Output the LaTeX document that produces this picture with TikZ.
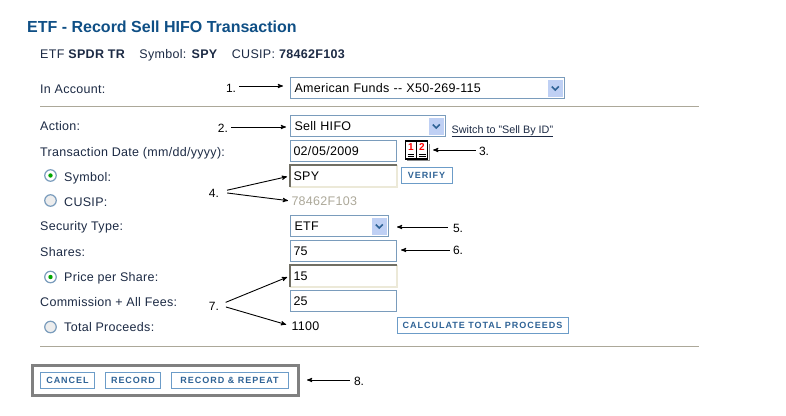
\documentclass[tikz,border=0pt]{standalone}
\usepackage{fontspec}
\setmainfont{Liberation Sans}
\newfontfamily\btnfont[LetterSpace=11]{Liberation Sans}
\newfontfamily\lblfont[LetterSpace=2.4]{Liberation Sans}
\usetikzlibrary{positioning, arrows}
\definecolor{boxBlue}{HTML}{7A9CBC}
\definecolor{btnBlue}{HTML}{6C9CC8}
\definecolor{btnText}{HTML}{2F6396}
\definecolor{titleBlue}{HTML}{0F4F85}
\definecolor{labelDark}{HTML}{1C2A44}
\definecolor{ruleGrey}{HTML}{ACA899}
\definecolor{dropBlue}{HTML}{BFD0F4}
\definecolor{focusDark}{HTML}{716F64}
\definecolor{focusLight}{HTML}{ECE9D8}
\tikzstyle{normalText} = [inner sep=0pt, anchor=base west, text=labelDark, font=\lblfont\fontsize{12.5}{14}\selectfont]
\tikzstyle{stepText} = [inner sep=0pt, text=black, font=\fontsize{12}{14}\selectfont]
\tikzstyle{inputBox} = [shape=rectangle, draw=boxBlue, line width=1pt, fill=white, anchor=west,
	inner xsep=3pt, inner ysep=0pt, minimum height=21pt, text height=9pt, text depth=0pt, text=black, align=left,
	font=\lblfont\fontsize{12.5}{14}\selectfont]
\tikzstyle{focusBox} = [inputBox, draw=none, fill=white]
\tikzstyle{selectBox} = [inputBox, inner xsep=4pt]
\tikzstyle{plainValue} = [inputBox, draw=none, fill=none, inner xsep=0pt]
\tikzstyle{webButton} = [shape=rectangle, draw=btnBlue, line width=1pt, fill=white, inner sep=0pt,
	minimum height=16.5pt, text=btnText, font=\btnfont\bfseries\fontsize{9}{10}\selectfont]
\tikzstyle{dropButton} = [shape=rectangle, fill=dropBlue, minimum width=15pt, minimum height=17pt]
\tikzstyle{dropMark} = [line width=1.6pt, draw=btnText]
\tikzstyle{normalArrow} = [line width=.9pt, ->, >=stealth', draw=black]
\tikzstyle{hrLine} = [line width=1pt, draw=ruleGrey]
\tikzstyle{radioOff} = [shape=circle, draw=boxBlue, line width=1.2pt, fill=black!7, inner sep=0pt, minimum size=11.5pt]
\tikzstyle{radioOn} = [radioOff, fill=white]
\tikzstyle{calDigit} = [inner sep=0pt, text=red, font=\bfseries\fontsize{10}{10}\selectfont]
\tikzstyle{calLine} = [line width=.8pt, draw=black]
\begin{document}
\begin{tikzpicture}[x=1pt, y=-1pt]
	\useasboundingbox (0,0) rectangle (786,415);
	% heading
	\node (Title) at (27,32.5) [anchor=base west, inner sep=0pt, text=titleBlue, font=\bfseries\fontsize{16}{18}\selectfont] {ETF - Record Sell HIFO Transaction};
	\node (Info) at (40,58) [normalText] {ETF \textbf{SPDR TR}\hspace{10.5pt} Symbol: \textbf{SPY}\hspace{10.5pt} CUSIP: \textbf{78462F103}};
	\draw [hrLine] (40,106.5) -- (699,106.5);
	\draw [hrLine] (40,346.5) -- (699,346.5);

	% left labels
	\node (LAccount) at (40,93) [normalText] {In Account:};
	\node (LAction) at (40,130.5) [normalText] {Action:};
	\node (LDate) at (40,156) [normalText] {Transaction Date (mm/dd/yyyy):};
	\node (LSymbol) at (64,181) [normalText] {Symbol:};
	\node (LCusip) at (64,206) [normalText] {CUSIP:};
	\node (LType) at (40,230.5) [normalText] {Security Type:};
	\node (LShares) at (40,256) [normalText] {Shares:};
	\node (LPrice) at (64,281) [normalText] {Price per Share:};
	\node (LFees) at (40,306) [normalText] {Commission + All Fees:};
	\node (LTotal) at (64,331) [normalText] {Total Proceeds:};
	\node (RSymbol) at (50.5,175.5) [radioOn] {};
	\node (RCusip) at (50.5,200.5) [radioOff] {};
	\node (RPrice) at (50.5,277) [radioOn] {};
	\node (RTotal) at (50.5,327) [radioOff] {};
	\fill [green!65!black] (RSymbol) circle (2.2pt);
	\fill [green!65!black] (RPrice) circle (2.2pt);

	% fields
	\node (Account) at (290,88) [selectBox, text width=266pt] {American Funds -- X50-269-115};
	\node (Action) at (290,126) [selectBox, text width=147pt] {Sell HIFO};
	\node (Date) at (290,150.5) [inputBox, text width=100pt] {02/05/2009};
	\node (Symbol) at (290,176) [focusBox, text width=100pt] {SPY};
	\draw [line width=1.2pt, draw=focusLight] (Symbol.north east) -- (Symbol.south east) -- (Symbol.south west);
	\draw [line width=1.2pt, draw=focusDark] (Symbol.south west) -- (Symbol.north west) -- (Symbol.north east);
	\node (Cusip) at (291,201) [plainValue, text=ruleGrey, text width=70pt] {78462F103};
	\node (Type) at (290,226) [selectBox, text width=90pt] {ETF};
	\node (Shares) at (290,250.5) [inputBox, text width=100pt] {75};
	\node (Price) at (290,276) [focusBox, text width=100pt] {15};
	\draw [line width=1.2pt, draw=focusLight] (Price.north east) -- (Price.south east) -- (Price.south west);
	\draw [line width=1.2pt, draw=focusDark] (Price.south west) -- (Price.north west) -- (Price.north east);
	\node (Fees) at (290,300.5) [inputBox, text width=100pt] {25};
	\node (Total) at (291,326) [plainValue, text width=40pt] {1100};

	% drop down buttons
	\node (DAccount) [dropButton, left=2pt of Account.east] {};
	\node (DAction) [dropButton, left=2pt of Action.east] {};
	\node (DType) [dropButton, left=2pt of Type.east] {};
	\draw [dropMark] ([xshift=-3.5pt,yshift=1.5pt]DAccount.center) -- ([yshift=-2pt]DAccount.center) -- ([xshift=3.5pt,yshift=1.5pt]DAccount.center);
	\draw [dropMark] ([xshift=-3.5pt,yshift=1.5pt]DAction.center) -- ([yshift=-2pt]DAction.center) -- ([xshift=3.5pt,yshift=1.5pt]DAction.center);
	\draw [dropMark] ([xshift=-3.5pt,yshift=1.5pt]DType.center) -- ([yshift=-2pt]DType.center) -- ([xshift=3.5pt,yshift=1.5pt]DType.center);

	\node (Switch) at (451.5,133) [anchor=base west, inner sep=0pt, text=labelDark, font=\fontsize{10.8}{12}\selectfont] {\underline{Switch to "Sell By ID"}};

	% calendar icon
	\draw [line width=1.5pt, draw=black!45] (407,160.5) -- (429.5,160.5) -- (429.5,144);
	\node (Calendar) at (416.5,150) [shape=rectangle, draw=black, fill=white, line width=1.2pt, inner sep=0pt, minimum width=22pt, minimum height=18pt] {};
	\draw [line width=1pt] (Calendar.north) -- (Calendar.south);
	\node at ([xshift=-5.5pt,yshift=3pt]Calendar.center) [calDigit] {1};
	\node at ([xshift=5.5pt,yshift=3pt]Calendar.center) [calDigit] {2};
	\draw [calLine] ([xshift=-9pt,yshift=-4pt]Calendar.center) -- ([xshift=-2.5pt,yshift=-4pt]Calendar.center);
	\draw [calLine] ([xshift=2.5pt,yshift=-4pt]Calendar.center) -- ([xshift=9pt,yshift=-4pt]Calendar.center);
	\draw [calLine] ([xshift=-9pt,yshift=-6.5pt]Calendar.center) -- ([xshift=-2.5pt,yshift=-6.5pt]Calendar.center);
	\draw [calLine] ([xshift=2.5pt,yshift=-6.5pt]Calendar.center) -- ([xshift=9pt,yshift=-6.5pt]Calendar.center);

	% buttons
	\node (Verify) at (426.5,175.5) [webButton, minimum width=51pt] {VERIFY};
	\node (Calc) at (482.5,325.5) [webButton, minimum width=171pt] {CALCULATE TOTAL PROCEEDS};
	\node (Group) at (165.5,380.5) [shape=rectangle, draw=black!50, line width=3pt, minimum width=266pt, minimum height=30pt] {};
	\node (Cancel) at (67.5,380.5) [webButton, minimum width=54pt] {CANCEL};
	\node (Record) at (133,380.5) [webButton, minimum width=55pt] {RECORD};
	\node (Repeat) at (229.5,380.5) [webButton, minimum width=117pt] {RECORD \& REPEAT};

	% step numbers
	\node (S1) at (231,88) [stepText] {1.};
	\node (S2) at (223,128.5) [stepText] {2.};
	\node (S3) at (484,151.5) [stepText] {3.};
	\node (S4) at (214,193.7) [stepText] {4.};
	\node (S5) at (458,228.5) [stepText] {5.};
	\node (S6) at (458,250.7) [stepText] {6.};
	\node (S7) at (214,306.4) [stepText] {7.};
	\node (S8) at (359,381.7) [stepText] {8.};

	\draw [normalArrow, shorten <=3pt, shorten >=7pt] ([yshift=2pt]S1.east) -- ([yshift=2pt]Account.west);
	\draw [normalArrow, shorten <=3pt, shorten >=4pt] ([yshift=1.5pt]S2.east) -- ([yshift=-1pt]Action.west);
	\draw [normalArrow, shorten <=3pt, shorten >=5pt] ([yshift=1.5pt]S3.west) -- (Calendar.east);
	\draw [normalArrow, shorten <=8pt, shorten >=3pt] ([yshift=1.7pt]S4.east) -- (Symbol.west);
	\draw [normalArrow, shorten <=8pt, shorten >=3pt] ([yshift=1.7pt]S4.east) -- (Cusip.west);
	\draw [normalArrow, shorten <=5pt, shorten >=8pt] ([yshift=1.5pt]S5.west) -- ([yshift=-1pt]Type.east);
	\draw [normalArrow, shorten <=3pt, shorten >=4pt] ([yshift=.7pt]S6.west) -- ([yshift=.5pt]Shares.east);
	\draw [normalArrow, shorten <=7pt, shorten >=3pt] ([yshift=1.4pt]S7.east) -- (Price.west);
	\draw [normalArrow, shorten <=7pt, shorten >=5pt] ([yshift=1.4pt]S7.east) -- (Total.west);
	\draw [normalArrow, shorten <=4pt, shorten >=7pt] ([yshift=1.7pt]S8.west) -- ([yshift=.5pt]Group.east);
\end{tikzpicture}
\end{document}
